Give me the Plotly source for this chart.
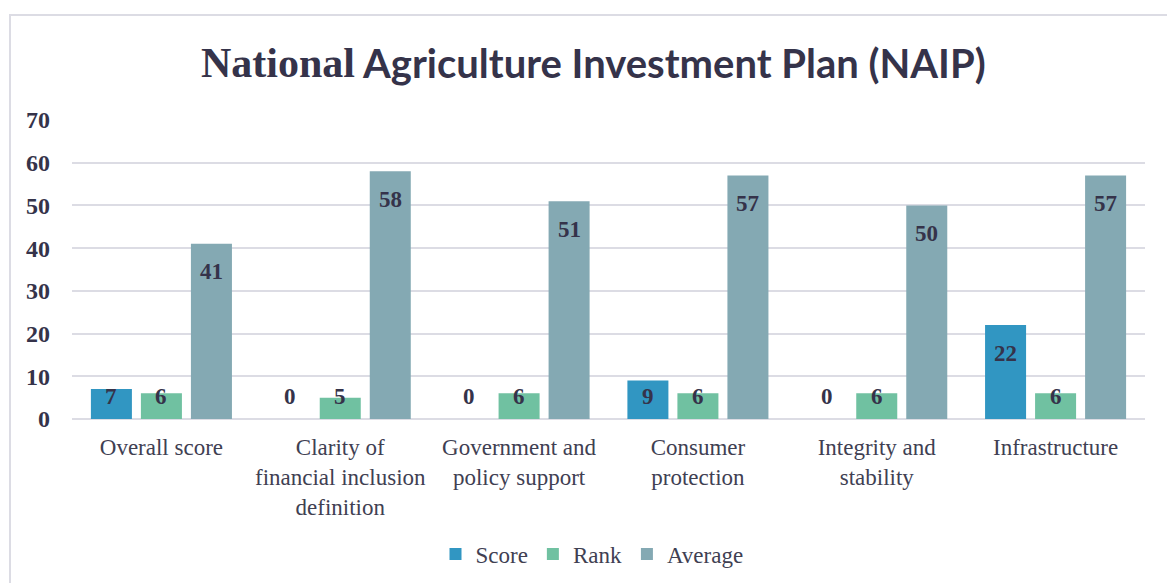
import plotly.graph_objects as go

categories = [
    "Overall score",
    "Clarity of<br>financial inclusion<br>definition",
    "Government and<br>policy support",
    "Consumer<br>protection",
    "Integrity and<br>stability",
    "Infrastructure",
]
score = [7, 0, 0, 9, 0, 22]
rank = [6, 5, 6, 6, 6, 6]
average = [41, 58, 51, 57, 50, 57]
y_ticks = [0, 10, 20, 30, 40, 50, 60, 70]

series = [
    ("Score", score, "#3196c2"),
    ("Rank", rank, "#70c1a1"),
    ("Average", average, "#84a9b3"),
]

SERIF = "Liberation Serif, Times New Roman, serif"
INK = "#35334a"
TEXT = "#404052"

# plot area geometry (pixels)
W, H = 1167, 583
ML, MR, MT, MB = 72, 22, 120, 164
PW, PH = W - ML - MR, H - MT - MB
Y_MAX = 70
BARGAP = 0.161
SLOT = (1 - BARGAP) * PW / len(categories) / len(series)


def px_x(px):
    return (px - ML) / PW


def px_y(px):
    return (H - MB - px) / PH


def label_y(v):
    # value labels sit just inside the bar end, but never below the floor
    per_px = Y_MAX / PH
    return max(v - 28 * per_px, 23 * per_px)


fig = go.Figure()
annotations = []
for i, (name, vals, color) in enumerate(series):
    fig.add_trace(go.Bar(
        name=name,
        x=categories,
        y=vals,
        marker=dict(color=color, line=dict(width=0)),
    ))
    for cat, v in zip(categories, vals):
        annotations.append(dict(
            x=cat, y=label_y(v), xref="x", yref="y",
            xshift=(i - 1) * SLOT,
            text=str(v), showarrow=False,
            xanchor="center", yanchor="middle",
            font=dict(family=SERIF, size=23, color=INK, weight="bold"),
        ))

# two-part title: serif first word, sans remainder
annotations.append(dict(
    x=px_x(357), y=px_y(63), xref="paper", yref="paper",
    text="National", showarrow=False, xanchor="right", yanchor="middle",
    font=dict(family=SERIF, size=42, color=INK, weight="bold"),
))
annotations.append(dict(
    x=px_x(360), y=px_y(63), xref="paper", yref="paper",
    text="Agriculture Investment Plan (NAIP)", showarrow=False,
    xanchor="left", yanchor="middle",
    font=dict(family="Lato, sans-serif", size=40, color=INK, weight="bold"),
))

fig.update_layout(
    width=W,
    height=H,
    margin=dict(l=ML, r=MR, t=MT, b=MB, autoexpand=False),
    paper_bgcolor="white",
    plot_bgcolor="white",
    barmode="group",
    bargap=BARGAP,
    bargroupgap=0.18,
    legend=dict(
        orientation="h",
        x=px_x(592),
        xanchor="center",
        y=px_y(554),
        yanchor="middle",
        font=dict(family=SERIF, size=23, color=TEXT),
        itemwidth=30,
        traceorder="normal",
    ),
    font=dict(family=SERIF, color=TEXT),
    annotations=annotations,
    shapes=[
        dict(
            type="rect", xref="paper", yref="paper",
            x0=px_x(10), x1=px_x(1200), y0=px_y(620), y1=px_y(15),
            line=dict(color="#dcdce4", width=2),
            fillcolor="rgba(0,0,0,0)",
            layer="below",
        )
    ],
)

fig.update_xaxes(
    automargin=False,
    showgrid=False,
    showline=False,
    ticks="",
    ticklabelstandoff=12,
    tickfont=dict(family=SERIF, size=23, color=TEXT),
)
fig.update_yaxes(
    automargin=False,
    range=[0, Y_MAX],
    tickvals=y_ticks,
    showgrid=True,
    gridcolor="#dcdce4",
    gridwidth=2,
    zeroline=True,
    zerolinecolor="#dcdce4",
    zerolinewidth=2,
    showline=False,
    ticks="",
    ticklabelstandoff=21,
    tickfont=dict(family=SERIF, size=24, color=INK, weight="bold"),
)

fig.write_html("out.html")
